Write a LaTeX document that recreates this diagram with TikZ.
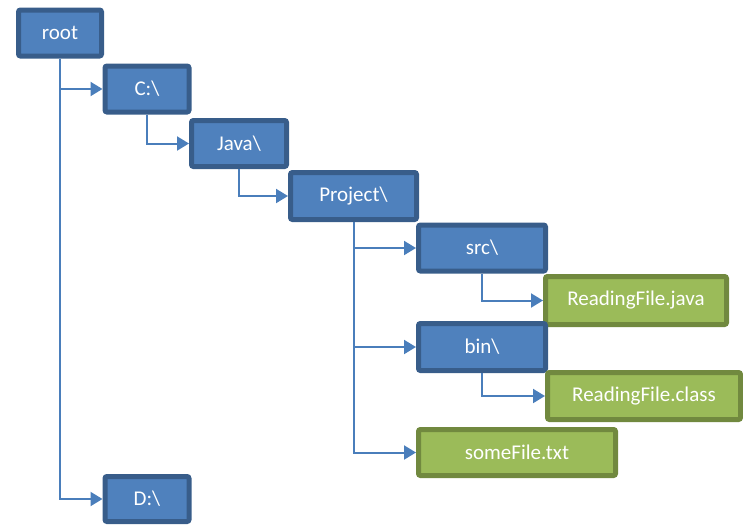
\documentclass[tikz,border=0pt]{standalone}
\usepackage{fontspec}
\setmainfont{Carlito}
\usepackage{xcolor}
\usetikzlibrary{arrows.meta,positioning}
\definecolor{dirfill}{HTML}{4F81BD}
\definecolor{dirline}{HTML}{385D8A}
\definecolor{filefill}{HTML}{9BBB59}
\definecolor{fileline}{HTML}{71893F}
\definecolor{linkcol}{HTML}{4A7EBB}

\begin{document}
\begin{tikzpicture}[x=1pt, y=-1pt,
    box/.style={rectangle, line width=5pt, rounded corners=2pt, text=white, font=\fontsize{21}{25}\selectfont, minimum height=46pt, inner sep=0pt},
    folder/.style={box, draw=dirline, fill=dirfill},
    file/.style={box, draw=fileline, fill=filefill},
    link/.style={draw=linkcol, line width=2pt, -{Triangle[length=12pt,width=14pt]}}]
    \useasboundingbox (0,0) rectangle (743,525);
    \node [folder, minimum width=83pt] (root) at (60,33) {root};
    \node [folder, minimum width=84pt] (c) at (147,89) {C:\textbackslash};
    \node [folder, minimum width=95pt] (java) at (239,143.5) {Java\textbackslash};
    \node [folder, minimum width=126pt, minimum height=47pt] (project) at (353.5,196) {Project\textbackslash};
    \node [folder, minimum width=127pt] (src) at (482,248) {src\textbackslash};
    \node [file, minimum width=181pt, minimum height=48pt] (rfjava) at (636,300.5) {ReadingFile.java};
    \node [folder, minimum width=127pt, minimum height=47pt] (bin) at (482,347) {bin\textbackslash};
    \node [file, minimum width=193pt, minimum height=47pt] (rfclass) at (644,396) {ReadingFile.class};
    \node [file, minimum width=197pt] (somefile) at (517,452.5) {someFile.txt};
    \node [folder, minimum width=84pt, minimum height=45pt] (d) at (147,499) {D:\textbackslash};
    \draw [link] (root.south) |- (c.west);
    \draw [link] (root.south) |- (d.west);
    \draw [link] (c.south) |- (java.west);
    \draw [link] (java.south) |- (project.west);
    \draw [link] (project.south) |- (src.west);
    \draw [link] (project.south) |- (bin.west);
    \draw [link] (project.south) |- (somefile.west);
    \draw [link] (src.south) |- (rfjava.west);
    \draw [link] (bin.south) |- (rfclass.west);
\end{tikzpicture}
\end{document}
